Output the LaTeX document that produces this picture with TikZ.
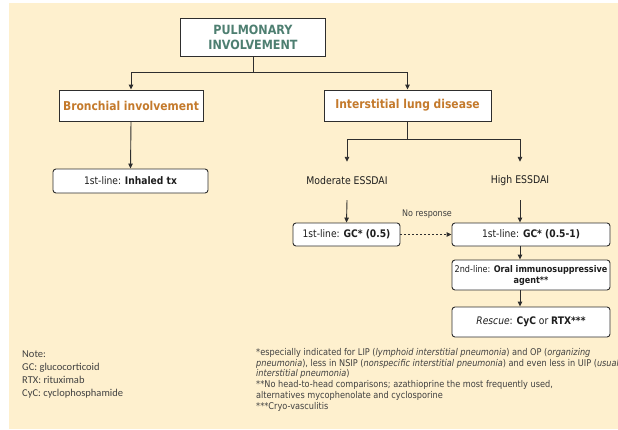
\documentclass[tikz,border=0pt]{standalone}
\usepackage{fontspec}
\usetikzlibrary{arrows.meta,calc}
\newfontfamily\tahfont[FakeStretch=0.88]{DejaVu Sans}
\newfontfamily\calfont{Carlito}
\definecolor{cream}{HTML}{FEF0CE}
\definecolor{tealtxt}{HTML}{4E7F71}
\definecolor{orangetxt}{HTML}{C47A2C}
\definecolor{linecol}{HTML}{2E2E2E}
\definecolor{txt}{HTML}{1E1E1E}
\tikzset{
  pbox/.style={draw=linecol, line width=0.9pt, fill=white, inner sep=2pt, align=center},
  rbox/.style={pbox, rounded corners=3pt, font=\tahfont\fontsize{10.4}{12}\selectfont, text=txt},
  headbox/.style={pbox, font=\tahfont\bfseries\fontsize{12.2}{14}\selectfont, text=orangetxt},
  lbl/.style={font=\tahfont\fontsize{10.6}{12}\selectfont, text=txt, inner sep=0pt},
  arr/.style={draw=linecol, line width=0.9pt, -{Triangle[width=4.5pt,length=5pt]}},
  conn/.style={draw=linecol, line width=0.9pt}
}
\begin{document}
\begin{tikzpicture}[x=1pt,y=-1pt]
% canvas
\fill[white] (0,0) rectangle (618,429);
\fill[cream] (9,3) rectangle (618,429);
\useasboundingbox (0,0) rectangle (618,429);

% top node
\node[pbox, minimum width=145pt, minimum height=38pt, text=tealtxt,
      font=\tahfont\bfseries\fontsize{12.7}{15}\selectfont] (pul) at (253,37)
      {PULMONARY\\INVOLVEMENT};

% second level
\node[headbox, minimum width=144pt, minimum height=31pt] (bro) at (131,105.5) {Bronchial involvement};
\node[headbox, minimum width=167pt, minimum height=31pt] (ild) at (407.5,105.5) {Interstitial lung disease};

% bronchial branch
\node[rbox, minimum width=155pt, minimum height=24pt] (inh) at (130.5,181) {1st-line: \textbf{Inhaled tx}};

% ILD branch: activity levels
\node[lbl, minimum height=38pt] (mod) at (347,181) {Moderate ESSDAI};
\node[lbl, minimum height=38pt] (hig) at (520,181) {High ESSDAI};

\node[rbox, minimum width=107pt, minimum height=23pt] (gca) at (346.5,234.5) {1st-line: \textbf{GC* (0.5)}};
\node[rbox, minimum width=158pt, minimum height=23pt] (gcb) at (531,234.5) {1st-line: \textbf{GC* (0.5-1)}};
\node[rbox, minimum width=158pt, minimum height=30pt, font=\tahfont\fontsize{9.2}{11}\selectfont] (sec) at (531,275)
      {2nd-line: \textbf{Oral immunosuppressive}\\\textbf{agent**}};
\node[rbox, minimum width=158pt, minimum height=30pt] (res) at (531,322)
      {\textit{Rescue}: \textbf{CyC} or \textbf{RTX***}};

\node[font=\tahfont\fontsize{9.1}{10}\selectfont, text=txt!85, inner sep=0pt] (nor) at (427,214) {No response};

% connectors
\draw[conn] (pul.south) -- ++(0,16) coordinate (split);
\draw[arr] (split) -| (bro.north);
\draw[arr] (split) -| (ild.north);
\draw[arr] (bro.south) -- (inh.north);
\draw[conn] (ild.south) -- ++(0,18) coordinate (split2);
\draw[arr] (split2) -| (mod.north);
\draw[arr] (split2) -| (hig.north);
\draw[arr] (mod.south) -- (gca.north);
\draw[arr] (hig.south) -- (hig |- gcb.north);
\draw[arr, dash pattern=on 2pt off 2pt] (gca.east) -- (gcb.west);
\draw[arr] (gcb.south -| hig) -- (sec.north -| hig);
\draw[arr] (sec.south -| hig) -- (res.north -| hig);

% footnotes
\node[anchor=north west, align=left, inner sep=0pt, text=txt!85,
      font=\calfont\fontsize{10.5}{13}\selectfont] (abbr) at (22,351)
      {Note:\\GC: glucocorticoid\\RTX: rituximab\\CyC: cyclophosphamide};
\node[anchor=north west, align=left, inner sep=0pt, text=txt!85,
      font=\tahfont\fontsize{9.3}{10.8}\selectfont] (foot) at (256,348)
      {*especially indicated for LIP (\textit{lymphoid interstitial pneumonia}) and OP (\textit{organizing}\\
       \textit{pneumonia}), less in NSIP (\textit{nonspecific interstitial pneumonia}) and even less in UIP (\textit{usual}\\
       \textit{interstitial pneumonia})\\
       **No head-to-head comparisons; azathioprine the most frequently used,\\
       alternatives mycophenolate and cyclosporine\\
       ***Cryo-vasculitis};
\end{tikzpicture}
\end{document}
